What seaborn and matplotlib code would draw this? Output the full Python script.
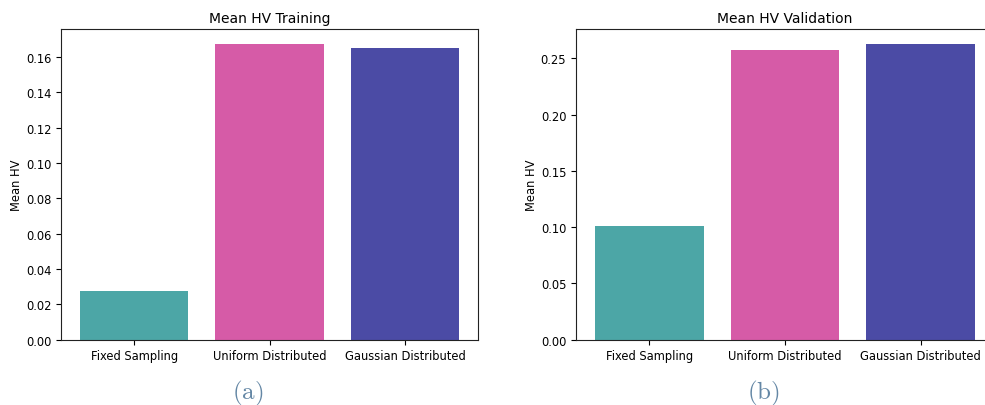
import matplotlib
matplotlib.use("Agg")
import matplotlib.pyplot as plt
import seaborn as sns
import pandas as pd

categories = ["Fixed Sampling", "Uniform Distributed", "Gaussian Distributed"]
train_hv = [0.0277, 0.1675, 0.1654]
val_hv = [0.1009, 0.2577, 0.2630]
colors = ["#4ca6a6", "#d65ba7", "#4b4ba5"]
titles = ["Mean HV Training", "Mean HV Validation"]
captions = ["(a)", "(b)"]

sns.set_style("ticks")
plt.rcParams["font.family"] = ["DejaVu Sans"]
plt.rcParams["mathtext.fontset"] = "cm"
plt.rcParams["text.color"] = "black"
plt.rcParams["axes.labelcolor"] = "black"
plt.rcParams["xtick.color"] = "black"
plt.rcParams["ytick.color"] = "black"

fig = plt.figure(figsize=(9.85, 4.06), dpi=100)
ax1 = fig.add_axes([61/985, 1-340.7/406, 417/985, 310.7/406])
ax2 = fig.add_axes([576/985, 1-340.7/406, 418/985, 310.7/406])

for ax, vals, title in zip([ax1, ax2], [train_hv, val_hv], titles):
    df = pd.DataFrame({"cat": categories, "hv": vals})
    sns.barplot(data=df, x="cat", y="hv", hue="cat", palette=colors,
                legend=False, ax=ax, width=0.8, linewidth=0, saturation=1)
    ax.set_xlim(-0.54, 2.54)
    ax.set_ylim(0, max(vals) * 1.05)
    ax.set_title(title, fontsize=10, pad=5, color="black")
    ax.set_xlabel("")
    ax.set_ylabel("Mean HV", fontsize=8.3, labelpad=2)
    ax.tick_params(labelsize=8.3, length=3.5, width=0.8, colors="black")
    for s in ax.spines.values():
        s.set_visible(True)
        s.set_linewidth(0.8)
        s.set_color("#222222")

for x, cap in zip([248, 763], captions):
    fig.text(x/985, 1-393/406, r"$\mathrm{" + cap + "}$", ha="center", va="center",
             fontsize=18, color="#6487a5")

fig.savefig("out.png", dpi=100)
